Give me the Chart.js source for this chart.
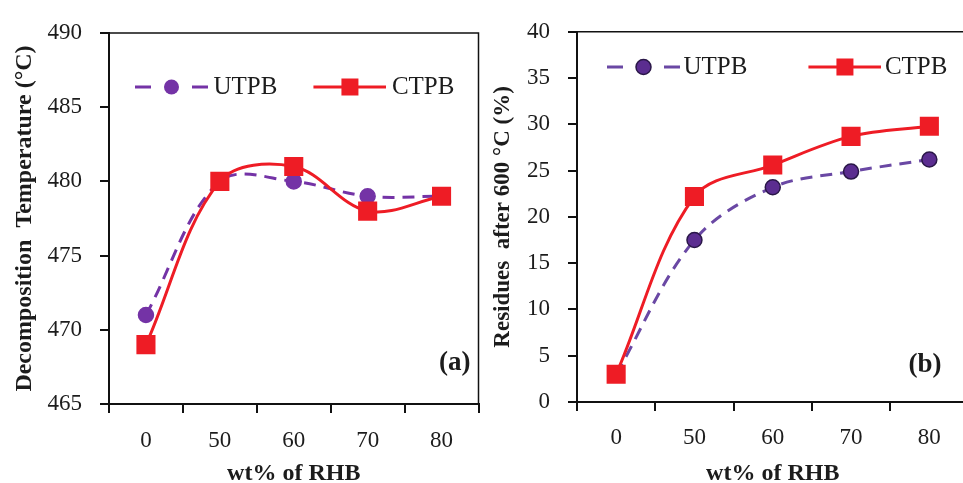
<!DOCTYPE html>
<html>
<head>
<meta charset="utf-8">
<script src="https://cdn.jsdelivr.net/npm/chart.js@4.4.1/dist/chart.umd.min.js"></script>
<style>
  html, body { margin: 0; padding: 0; background: #fff; overflow: hidden; }
  body { width: 963px; height: 483px; position: relative; }
  .panel { position: absolute; top: 0; height: 500px; }
  #panel-a { left: 0; width: 492px; }
  #panel-b { left: 482px; width: 500px; }
</style>
</head>
<body>
<div class="panel" id="panel-a"><canvas id="chart-a"></canvas></div>
<div class="panel" id="panel-b"><canvas id="chart-b"></canvas></div>
<script>
// Values
const rhbLoading = ['0', '50', '60', '70', '80'];
const decompUTPB = [471, 480, 480, 479, 479];
const decompCTPB = [469, 480, 481, 478, 479];
const residueUTPB = [3, 17.5, 23.2, 24.9, 26.2];
const residueCTPB = [3, 22.2, 25.6, 28.7, 29.8];
const decompTicks = [465, 470, 475, 480, 485, 490];
const residueTicks = [0, 5, 10, 15, 20, 25, 30, 35, 40];

const SERIF = '"Liberation Serif", "Times New Roman", serif';
const INK = '#1c1c1c';
const RED = '#ee1c25';
const LEGEND_SIZE = 25;

// Legend symbol: line + marker, drawn on a small canvas
function legendIcon(kind, boxW, ext, colors) {
  const w = boxW + 2 * ext, h = 26;
  const c = document.createElement('canvas');
  c.width = w; c.height = h;
  const g = c.getContext('2d');
  const x0 = ext, x1 = w, cx = (x0 + x1) / 2, cy = h / 2;
  g.lineWidth = 3;
  g.strokeStyle = colors.line;
  if (kind === 'circle') {
    g.beginPath();
    g.moveTo(x0, cy); g.lineTo(x0 + 16, cy);
    g.moveTo(x1 - 16, cy); g.lineTo(x1, cy);
    g.stroke();
    g.beginPath();
    g.arc(cx, cy, 7.5, 0, Math.PI * 2);
    g.fillStyle = colors.fill;
    g.fill();
    if (colors.edge) { g.lineWidth = 1.5; g.strokeStyle = colors.edge; g.stroke(); }
  } else {
    g.beginPath();
    g.moveTo(x0, cy); g.lineTo(x1, cy);
    g.stroke();
    g.fillStyle = colors.fill;
    g.fillRect(cx - 8.5, cy - 8.5, 17, 17);
  }
  return c;
}

// Lay the legend out as one row inside the plot box, where the figure has it
const legendSpot = {
  id: 'legendSpot',
  beforeLayout(chart) {
    chart.legend.isHorizontal = () => true;
  },
  afterLayout(chart, args, opts) {
    const lg = chart.legend;
    const pad = lg.options.labels.padding;
    lg.update(4000, chart.chartArea.height, {left: 0, top: 0, right: 0, bottom: 0});
    lg.left = opts.x - pad;
    lg.right = lg.left + 4000;
    lg.top = opts.y - LEGEND_SIZE / 2 - pad;
  }
};

// Top and right edge of the plot box
const plotFrame = {
  id: 'plotFrame',
  afterDraw(chart) {
    const {ctx, chartArea: a} = chart;
    ctx.save();
    ctx.strokeStyle = '#111';
    ctx.lineWidth = 1.5;
    ctx.beginPath();
    ctx.moveTo(a.left, a.top);
    ctx.lineTo(a.right, a.top);
    ctx.lineTo(a.right, a.bottom);
    ctx.stroke();
    ctx.restore();
  }
};

// "(a)" / "(b)" tag in the lower right corner
const panelTag = {
  id: 'panelTag',
  afterDraw(chart, args, opts) {
    const {ctx, chartArea: a} = chart;
    ctx.save();
    ctx.font = 'bold 27px ' + SERIF;
    ctx.fillStyle = INK;
    ctx.textAlign = 'right';
    ctx.textBaseline = 'middle';
    ctx.fillText(opts.text, a.right - opts.dx, a.bottom - opts.dy);
    ctx.restore();
  }
};

function buildPanel(canvasId, p) {
  const icons = [
    legendIcon('circle', p.boxW, p.ext, p.circleColors),
    legendIcon('rect', p.boxW, p.ext, {line: RED, fill: RED})
  ];
  return new Chart(document.getElementById(canvasId), {
    type: 'line',
    data: {
      labels: rhbLoading,
      datasets: [{
        label: 'UTPB',
        data: p.utpb,
        order: 2,
        borderColor: p.circleColors.line,
        borderWidth: 3,
        borderDash: [12, 8],
        tension: 0.35,
        pointStyle: 'circle',
        pointRadius: 7.5,
        pointBackgroundColor: p.circleColors.fill,
        pointBorderColor: p.circleColors.edge || p.circleColors.fill,
        pointBorderWidth: 1.5
      }, {
        label: 'CTPB',
        data: p.ctpb,
        order: 1,
        borderColor: RED,
        borderWidth: 3,
        tension: 0.35,
        pointStyle: 'rect',
        pointRadius: 13.5,
        pointBackgroundColor: RED,
        pointBorderColor: RED,
        pointBorderWidth: 0
      }]
    },
    plugins: [legendSpot, plotFrame, panelTag],
    options: {
      responsive: true,
      maintainAspectRatio: false,
      animation: false,
      devicePixelRatio: 1,
      events: [],
      layout: { padding: { top: p.top, right: p.right, bottom: 0, left: 0 } },
      plugins: {
        tooltip: { enabled: false },
        panelTag: p.tag,
        legendSpot: p.legendAt,
        legend: {
          position: 'chartArea',
          align: 'start',
          labels: {
            usePointStyle: true,
            pointStyleWidth: p.boxW,
            padding: p.legendGap,
            color: INK,
            font: { family: SERIF, size: LEGEND_SIZE },
            generateLabels: (chart) => chart.data.datasets.map((ds, i) => ({
              text: ds.label,
              datasetIndex: i,
              pointStyle: icons[i],
              fontColor: INK,
              fillStyle: ds.borderColor,
              strokeStyle: ds.borderColor,
              lineWidth: 0,
              hidden: false
            }))
          }
        }
      },
      scales: {
        x: {
          offset: true,
          afterFit: (s) => { s.height = p.xHeight; },
          ticks: { padding: p.xTickPad, color: INK, font: { family: SERIF, size: 23 } },
          grid: { offset: true, drawOnChartArea: false, tickLength: 9, color: '#111', lineWidth: 2 },
          border: { display: true, color: '#111', width: 2 },
          title: {
            display: true,
            text: 'wt% of RHB',
            color: INK,
            font: { family: SERIF, size: 24, weight: 'bold' },
            padding: { top: 0, bottom: 12 }
          }
        },
        y: {
          min: p.ticks[0],
          max: p.ticks[p.ticks.length - 1],
          afterFit: (s) => { s.width = p.yWidth; },
          ticks: { stepSize: p.ticks[1] - p.ticks[0], padding: 18, color: INK, font: { family: SERIF, size: 23 } },
          grid: { drawOnChartArea: false, tickLength: 9, color: '#111', lineWidth: 2 },
          border: { display: true, color: '#111', width: 2 },
          title: {
            display: true,
            text: p.yTitle,
            color: INK,
            font: { family: SERIF, size: p.yTitleSize, weight: 'bold' },
            padding: { top: p.yTitlePad, bottom: 0 }
          }
        }
      }
    }
  });
}

buildPanel('chart-a', {
  utpb: decompUTPB,
  ctpb: decompCTPB,
  ticks: decompTicks,
  yTitle: 'Decomposition  Temperature (°C)',
  yTitleSize: 24,
  yTitlePad: 10,
  top: 33, right: 11, yWidth: 109, xHeight: 96, xTickPad: 14,
  boxW: 66, ext: 7, legendGap: 36,
  legendAt: { x: 135, y: 87 },
  circleColors: { line: '#7433a6', fill: '#7433a6' },
  tag: { text: '(a)', dx: 8, dy: 41 }
});

buildPanel('chart-b', {
  utpb: residueUTPB,
  ctpb: residueCTPB,
  ticks: residueTicks,
  yTitle: 'Residues  after 600 °C (%)',
  yTitleSize: 23,
  yTitlePad: 7,
  top: 29, right: 12, yWidth: 95, xHeight: 98, xTickPad: 13,
  boxW: 64, ext: 9, legendGap: 61,
  legendAt: { x: 125, y: 67 },
  circleColors: { line: '#6a48a4', fill: '#5b2d90', edge: '#2a1748' },
  tag: { text: '(b)', dx: 27, dy: 37 }
});
</script>
</body>
</html>
